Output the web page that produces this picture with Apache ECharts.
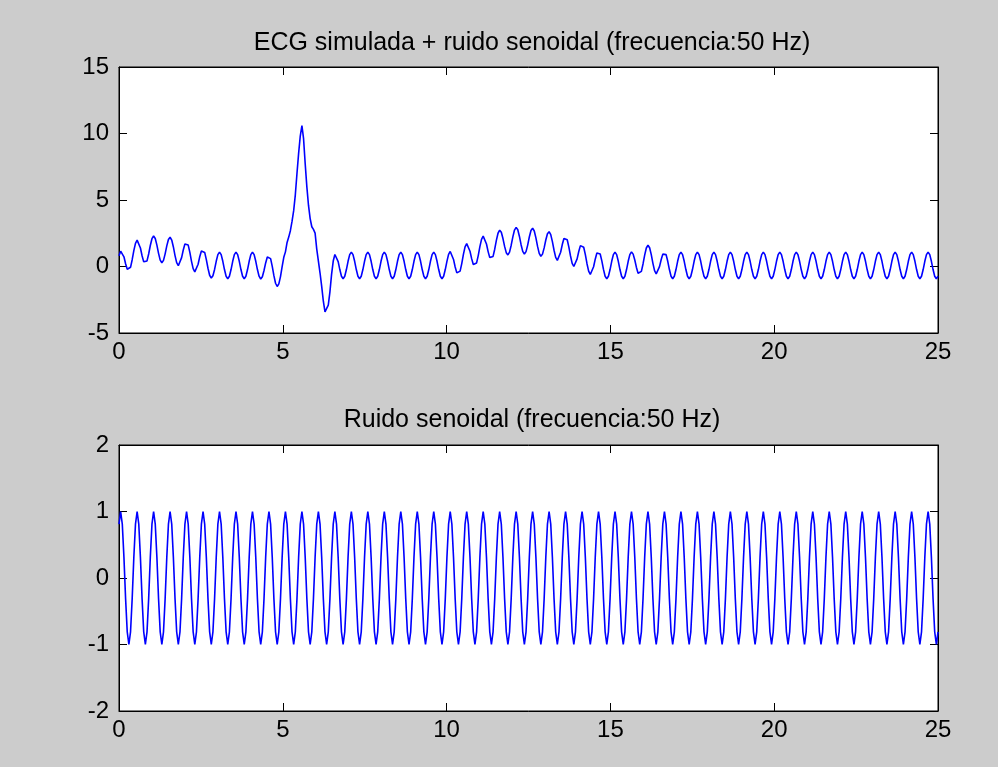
<!DOCTYPE html>
<html>
<head>
<meta charset="utf-8">
<script src="https://cdn.jsdelivr.net/npm/echarts@6/dist/echarts.min.js"></script>
<style>
  html, body { margin: 0; padding: 0; background: #cccccc; }
  #chart { width: 998px; height: 767px; }
</style>
</head>
<body>
<div id="chart"></div>
<script>
// Sample spacing of the time axis (498 samples spread over 0..25)
const dt = 25 / 497;

// 50 Hz sinusoidal interference, 10 samples per cycle
const ruido = [
  0.81,1,0.81,0.31,-0.31,-0.81,-1,-0.81,-0.31,0.31,
  0.81,1,0.81,0.31,-0.31,-0.81,-1,-0.81,-0.31,0.31,
  0.81,1,0.81,0.31,-0.31,-0.81,-1,-0.81,-0.31,0.31,
  0.81,1,0.81,0.31,-0.31,-0.81,-1,-0.81,-0.31,0.31,
  0.81,1,0.81,0.31,-0.31,-0.81,-1,-0.81,-0.31,0.31,
  0.81,1,0.81,0.31,-0.31,-0.81,-1,-0.81,-0.31,0.31,
  0.81,1,0.81,0.31,-0.31,-0.81,-1,-0.81,-0.31,0.31,
  0.81,1,0.81,0.31,-0.31,-0.81,-1,-0.81,-0.31,0.31,
  0.81,1,0.81,0.31,-0.31,-0.81,-1,-0.81,-0.31,0.31,
  0.81,1,0.81,0.31,-0.31,-0.81,-1,-0.81,-0.31,0.31,
  0.81,1,0.81,0.31,-0.31,-0.81,-1,-0.81,-0.31,0.31,
  0.81,1,0.81,0.31,-0.31,-0.81,-1,-0.81,-0.31,0.31,
  0.81,1,0.81,0.31,-0.31,-0.81,-1,-0.81,-0.31,0.31,
  0.81,1,0.81,0.31,-0.31,-0.81,-1,-0.81,-0.31,0.31,
  0.81,1,0.81,0.31,-0.31,-0.81,-1,-0.81,-0.31,0.31,
  0.81,1,0.81,0.31,-0.31,-0.81,-1,-0.81,-0.31,0.31,
  0.81,1,0.81,0.31,-0.31,-0.81,-1,-0.81,-0.31,0.31,
  0.81,1,0.81,0.31,-0.31,-0.81,-1,-0.81,-0.31,0.31,
  0.81,1,0.81,0.31,-0.31,-0.81,-1,-0.81,-0.31,0.31,
  0.81,1,0.81,0.31,-0.31,-0.81,-1,-0.81,-0.31,0.31,
  0.81,1,0.81,0.31,-0.31,-0.81,-1,-0.81,-0.31,0.31,
  0.81,1,0.81,0.31,-0.31,-0.81,-1,-0.81,-0.31,0.31,
  0.81,1,0.81,0.31,-0.31,-0.81,-1,-0.81,-0.31,0.31,
  0.81,1,0.81,0.31,-0.31,-0.81,-1,-0.81,-0.31,0.31,
  0.81,1,0.81,0.31,-0.31,-0.81,-1,-0.81,-0.31,0.31,
  0.81,1,0.81,0.31,-0.31,-0.81,-1,-0.81,-0.31,0.31,
  0.81,1,0.81,0.31,-0.31,-0.81,-1,-0.81,-0.31,0.31,
  0.81,1,0.81,0.31,-0.31,-0.81,-1,-0.81,-0.31,0.31,
  0.81,1,0.81,0.31,-0.31,-0.81,-1,-0.81,-0.31,0.31,
  0.81,1,0.81,0.31,-0.31,-0.81,-1,-0.81,-0.31,0.31,
  0.81,1,0.81,0.31,-0.31,-0.81,-1,-0.81,-0.31,0.31,
  0.81,1,0.81,0.31,-0.31,-0.81,-1,-0.81,-0.31,0.31,
  0.81,1,0.81,0.31,-0.31,-0.81,-1,-0.81,-0.31,0.31,
  0.81,1,0.81,0.31,-0.31,-0.81,-1,-0.81,-0.31,0.31,
  0.81,1,0.81,0.31,-0.31,-0.81,-1,-0.81,-0.31,0.31,
  0.81,1,0.81,0.31,-0.31,-0.81,-1,-0.81,-0.31,0.31,
  0.81,1,0.81,0.31,-0.31,-0.81,-1,-0.81,-0.31,0.31,
  0.81,1,0.81,0.31,-0.31,-0.81,-1,-0.81,-0.31,0.31,
  0.81,1,0.81,0.31,-0.31,-0.81,-1,-0.81,-0.31,0.31,
  0.81,1,0.81,0.31,-0.31,-0.81,-1,-0.81,-0.31,0.31,
  0.81,1,0.81,0.31,-0.31,-0.81,-1,-0.81,-0.31,0.31,
  0.81,1,0.81,0.31,-0.31,-0.81,-1,-0.81,-0.31,0.31,
  0.81,1,0.81,0.31,-0.31,-0.81,-1,-0.81,-0.31,0.31,
  0.81,1,0.81,0.31,-0.31,-0.81,-1,-0.81,-0.31,0.31,
  0.81,1,0.81,0.31,-0.31,-0.81,-1,-0.81,-0.31,0.31,
  0.81,1,0.81,0.31,-0.31,-0.81,-1,-0.81,-0.31,0.31,
  0.81,1,0.81,0.31,-0.31,-0.81,-1,-0.81,-0.31,0.31,
  0.81,1,0.81,0.31,-0.31,-0.81,-1,-0.81,-0.31,0.31,
  0.81,1,0.81,0.31,-0.31,-0.81,-1,-0.81,-0.31,0.31,
  0.81,1,0.81,0.31,-0.31,-0.81,-1,-0.81
];

// Simulated ECG beat (P wave, QRS complex, T wave) without interference
const ecg = [
  0,0.15,0.3,0.42,0.52,0.6,0.68,0.75,0.82,0.88,
  0.93,0.98,1.03,1.08,1.12,1.16,1.2,1.23,1.25,1.27,
  1.28,1.29,1.3,1.3,1.3,1.29,1.28,1.27,1.26,1.24,
  1.22,1.2,1.18,1.16,1.13,1.1,1.06,1.02,0.98,0.93,
  0.88,0.84,0.8,0.75,0.7,0.65,0.6,0.54,0.48,0.42,
  0.36,0.3,0.25,0.21,0.18,0.15,0.13,0.11,0.09,0.08,
  0.08,0.08,0.08,0.08,0.08,0.08,0.08,0.08,0.08,0.08,
  0.08,0.08,0.08,0.08,0.08,0.08,0.08,0.08,0.08,0.08,
  0.08,0.08,0.08,0.08,0.08,0.08,0.06,0.04,0.01,-0.04,
  -0.1,-0.15,-0.22,-0.3,-0.38,-0.45,-0.5,-0.5,-0.45,-0.32,
  -0.12,0.1,1.0,1.9,3.0,4.2,5.2,6.2,7.3,8.2,
  9.0,9.6,8.8,7.4,6.3,5.4,4.6,3.8,3.1,2.2,
  0.5,-0.6,-1.3,-1.8,-2.3,-2.6,-2.5,-2.1,-1.6,-0.9,
  -0.4,-0.1,0.02,0.06,0.08,0.08,0.08,0.08,0.08,0.08,
  0.08,0.08,0.08,0.08,0.08,0.08,0.08,0.08,0.08,0.08,
  0.08,0.08,0.08,0.08,0.08,0.08,0.08,0.08,0.08,0.08,
  0.08,0.08,0.08,0.08,0.08,0.08,0.08,0.08,0.08,0.08,
  0.08,0.08,0.08,0.08,0.08,0.08,0.08,0.08,0.08,0.08,
  0.08,0.08,0.08,0.08,0.08,0.08,0.08,0.08,0.08,0.08,
  0.08,0.08,0.08,0.08,0.08,0.08,0.08,0.08,0.08,0.08,
  0.1,0.13,0.17,0.22,0.27,0.33,0.39,0.46,0.53,0.6,
  0.66,0.72,0.78,0.84,0.9,0.96,1.02,1.08,1.13,1.18,
  1.23,1.28,1.33,1.38,1.43,1.48,1.53,1.57,1.61,1.65,
  1.69,1.73,1.76,1.79,1.82,1.85,1.87,1.89,1.91,1.92,
  1.93,1.94,1.95,1.95,1.95,1.95,1.94,1.93,1.92,1.91,
  1.9,1.88,1.86,1.84,1.82,1.8,1.77,1.74,1.71,1.68,
  1.65,1.62,1.59,1.56,1.53,1.5,1.46,1.42,1.38,1.34,
  1.3,1.25,1.2,1.15,1.1,1.05,1.0,0.94,0.88,0.82,
  0.76,0.7,0.64,0.58,0.52,0.46,0.4,0.34,0.29,0.24,
  0.2,0.16,0.13,0.11,0.09,0.08,0.08,0.08,0.08,0.08,
  0.08,0.08,0.08,0.08,0.08,0.08,0.08,0.08,0.08,0.08,
  0.08,0.1,0.12,0.18,0.24,0.3,0.38,0.44,0.5,0.55,
  0.58,0.6,0.6,0.58,0.55,0.5,0.45,0.38,0.3,0.2,
  0.12,0.08,0.08,0.08,0.08,0.08,0.08,0.08,0.08,0.08,
  0.08,0.08,0.08,0.08,0.08,0.08,0.08,0.08,0.08,0.08,
  0.08,0.08,0.08,0.08,0.08,0.08,0.08,0.08,0.08,0.08,
  0.08,0.08,0.08,0.08,0.08,0.08,0.08,0.08,0.08,0.08,
  0.08,0.08,0.08,0.08,0.08,0.08,0.08,0.08,0.08,0.08,
  0.08,0.08,0.08,0.08,0.08,0.08,0.08,0.08,0.08,0.08,
  0.08,0.08,0.08,0.08,0.08,0.08,0.08,0.08,0.08,0.08,
  0.08,0.08,0.08,0.08,0.08,0.08,0.08,0.08,0.08,0.08,
  0.08,0.08,0.08,0.08,0.08,0.08,0.08,0.08,0.08,0.08,
  0.08,0.08,0.08,0.08,0.08,0.08,0.08,0.08,0.08,0.08,
  0.08,0.08,0.08,0.08,0.08,0.08,0.08,0.08,0.08,0.08,
  0.08,0.08,0.08,0.08,0.08,0.08,0.08,0.08,0.08,0.08,
  0.08,0.08,0.08,0.08,0.08,0.08,0.08,0.08,0.08,0.08,
  0.08,0.08,0.08,0.08,0.08,0.08,0.08,0.08,0.08,0.08,
  0.08,0.08,0.08,0.08,0.08,0.08,0.08,0.08,0.08,0.08,
  0.08,0.08,0.08,0.08,0.08,0.08,0.08,0.08,0.08,0.08,
  0.08,0.08,0.08,0.08,0.08,0.08,0.08,0.08
];

// Axis ranges and tick steps
const xRange = [0, 25];
const xStep = 5;
const yRangeTop = [-5, 15];
const yStepTop = 5;
const yRangeBottom = [-2, 2];
const yStepBottom = 1;

const titleTop = 'ECG simulada + ruido senoidal (frecuencia:50 Hz)';
const titleBottom = 'Ruido senoidal (frecuencia:50 Hz)';

// Series built as [t, value] pairs
const tiempo = ruido.map((_, i) => i * dt);
const ecgConRuido = ecg.map((v, i) => [tiempo[i], +(v + ruido[i]).toFixed(3)]);
const soloRuido = ruido.map((v, i) => [tiempo[i], v]);

const FONT = '"Liberation Sans", Arial, Helvetica, sans-serif';
const labelStyle = { color: '#000', fontFamily: FONT, fontSize: 24 };

function xAxis(gridIndex, position, showLabel) {
  return {
    type: 'value', gridIndex, position,
    min: xRange[0], max: xRange[1], interval: xStep,
    axisLine: { show: true, onZero: false, lineStyle: { color: '#000', width: 1 } },
    axisTick: { show: true, inside: true, length: 8, lineStyle: { color: '#000', width: 1 } },
    axisLabel: Object.assign({ show: showLabel, margin: 7, showMinLabel: true, showMaxLabel: true }, labelStyle),
    splitLine: { show: false }
  };
}
function yAxis(gridIndex, position, range, step, showLabel) {
  return {
    type: 'value', gridIndex, position,
    min: range[0], max: range[1], interval: step,
    axisLine: { show: true, onZero: false, lineStyle: { color: '#000', width: 1 } },
    axisTick: { show: true, inside: true, length: 8, lineStyle: { color: '#000', width: 1 } },
    axisLabel: Object.assign({ show: showLabel, margin: 10, showMinLabel: true, showMaxLabel: true }, labelStyle),
    splitLine: { show: false }
  };
}

const chart = echarts.init(document.getElementById('chart'), null, { renderer: 'canvas' });
chart.setOption({
  backgroundColor: '#cccccc',
  animation: false,
  title: [
    { text: titleTop, left: 527, top: 26, textAlign: 'center',
      textStyle: { color: '#000', fontFamily: FONT, fontSize: 25, fontWeight: 'normal' } },
    { text: titleBottom, left: 527, top: 403, textAlign: 'center',
      textStyle: { color: '#000', fontFamily: FONT, fontSize: 25, fontWeight: 'normal' } }
  ],
  grid: [
    { left: 119, top: 67, width: 819, height: 266, show: true, backgroundColor: '#ffffff', borderColor: '#000', borderWidth: 1 },
    { left: 119, top: 445, width: 819, height: 266, show: true, backgroundColor: '#ffffff', borderColor: '#000', borderWidth: 1 }
  ],
  xAxis: [
    xAxis(0, 'bottom', true), xAxis(0, 'top', false),
    xAxis(1, 'bottom', true), xAxis(1, 'top', false)
  ],
  yAxis: [
    yAxis(0, 'left', yRangeTop, yStepTop, true), yAxis(0, 'right', yRangeTop, yStepTop, false),
    yAxis(1, 'left', yRangeBottom, yStepBottom, true), yAxis(1, 'right', yRangeBottom, yStepBottom, false)
  ],
  series: [
    { type: 'line', xAxisIndex: 0, yAxisIndex: 0, data: ecgConRuido, showSymbol: false,
      lineStyle: { color: '#0000ff', width: 1.6 }, itemStyle: { color: '#0000ff' } },
    { type: 'line', xAxisIndex: 2, yAxisIndex: 2, data: soloRuido, showSymbol: false,
      lineStyle: { color: '#0000ff', width: 1.6 }, itemStyle: { color: '#0000ff' } }
  ]
});
</script>
</body>
</html>
